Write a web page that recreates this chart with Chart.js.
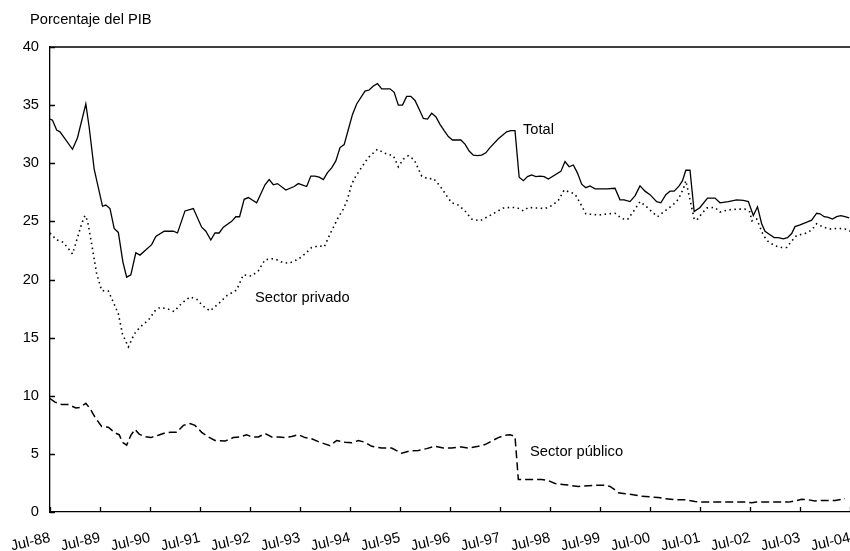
<!DOCTYPE html>
<html lang="es">
<head>
<meta charset="utf-8">
<title>Porcentaje del PIB</title>
<script src="https://cdn.jsdelivr.net/npm/chart.js@4.4.1/dist/chart.umd.min.js"></script>
<style>
  html, body { margin: 0; padding: 0; background: #fff; }
</style>
</head>
<body>
<canvas id="chart" width="850" height="551"></canvas>
<script>
// months counted from Jul-88
const xTickLabels = ['Jul-88','Jul-89','Jul-90','Jul-91','Jul-92','Jul-93','Jul-94','Jul-95','Jul-96',
  'Jul-97','Jul-98','Jul-99','Jul-00','Jul-01','Jul-02','Jul-03','Jul-04'];
const yTicks = [0, 5, 10, 15, 20, 25, 30, 35, 40];

const totalMonths = [0, 0.6, 1.6, 2.4, 5.4, 6.6, 8.6, 9.4, 10.6, 11.6,
  12.6, 13.4, 14.4, 15.4, 16.4, 17.5, 18.4, 19.4, 20.6, 21.6,
  24.4, 25.4, 27.4, 29.6, 30.6, 32.4, 34.4, 36.4, 37.4, 38.6,
  39.6, 40.6, 41.6, 43.6, 44.6, 45.5, 46.6, 47.6, 49.6, 51.6,
  52.6, 53.6, 54.6, 56.6, 58.6, 59.6, 61.6, 62.6, 63.6, 64.6,
  65.6, 66.6, 67.6, 68.6, 69.6, 70.6, 71.6, 72.6, 73.6, 75.6,
  76.6, 77.6, 78.6, 79.6, 81.6, 82.6, 83.6, 84.6, 85.6, 86.6,
  87.6, 88.6, 89.6, 90.6, 91.6, 92.6, 93.6, 94.6, 95.6, 96.6,
  98.6, 99.6, 100.6, 101.6, 102.6, 103.6, 104.6, 105.6, 107.6, 108.6,
  109.6, 110.6, 111.6, 112.6, 113.6, 114.6, 115.6, 116.6, 117.6, 118.6,
  119.6, 122.6, 123.6, 124.6, 125.6, 126.6, 127.6, 128.6, 129.6, 130.8,
  133.6, 135.6, 136.8, 137.8, 139.2, 140.4, 141.6, 142.8, 144, 145.6,
  146.6, 147.8, 148.8, 149.8, 151, 151.8, 152.6, 153.6, 154.6, 156,
  157.8, 159.6, 160.8, 162.8, 164.8, 166.4, 167.6, 168.8, 169.8, 170.8,
  171.6, 172.8, 173.8, 174.8, 176, 177, 178, 178.8, 180, 181.8,
  182.8, 184, 184.8, 185.8, 186.8, 187.8, 188.8, 189.8, 190.8, 191.8];
const totalValues = [33.8, 33.7, 32.85, 32.7, 31.2, 32.2, 35.1, 33.1, 29.5, 27.9,
  26.3, 26.4, 26.1, 24.4, 24.05, 21.5, 20.2, 20.4, 22.3, 22.1,
  23.0, 23.7, 24.15, 24.15, 24.0, 25.9, 26.1, 24.5, 24.15, 23.4,
  24.0, 24.0, 24.5, 25.0, 25.4, 25.4, 26.9, 27.05, 26.6, 28.15,
  28.6, 28.15, 28.25, 27.7, 28.0, 28.25, 28.0, 28.9, 28.9, 28.8,
  28.6, 29.2, 29.6, 30.2, 31.35, 31.6, 32.9, 34.2, 35.1, 36.2,
  36.3, 36.65, 36.85, 36.4, 36.4, 36.1, 35.0, 35.0, 35.75, 35.75,
  35.4, 34.65, 33.85, 33.8, 34.3, 34.0, 33.35, 32.8, 32.3, 32.0,
  32.0, 31.65, 31.05, 30.7, 30.65, 30.7, 30.9, 31.35, 32.1, 32.4,
  32.7, 32.8, 32.8, 28.8, 28.5, 28.85, 29.0, 28.85, 28.9, 28.85,
  28.65, 29.3, 30.15, 29.7, 29.85, 29.15, 28.2, 27.9, 28.05, 27.8,
  27.8, 27.85, 26.85, 26.85, 26.7, 27.2, 28.05, 27.6, 27.3, 26.7,
  26.6, 27.3, 27.6, 27.6, 28.05, 28.5, 29.4, 29.4, 25.85, 26.2,
  27.0, 27.0, 26.6, 26.7, 26.85, 26.8, 26.7, 25.5, 26.25, 24.8,
  24.15, 23.85, 23.6, 23.6, 23.5, 23.6, 23.95, 24.55, 24.7, 24.95,
  25.1, 25.7, 25.65, 25.4, 25.35, 25.2, 25.4, 25.5, 25.4, 25.3];

const privadoMonths = [0, 1.6, 3.2, 5.4, 6.6, 7.6, 8.4, 9, 10, 11.2,
  12.4, 14, 15.2, 16.4, 17.4, 18.8, 20.2, 21.6, 23.6, 25.2,
  26.4, 28, 29.8, 31.6, 33.6, 35.2, 36.8, 38.4, 40.4, 42.4,
  44.8, 46.4, 48.4, 50, 51.6, 53.8, 55.6, 57.4, 59.6, 61.2,
  62.8, 64.6, 65.8, 67.2, 69.2, 70.4, 71.4, 72.4, 73.4, 74.8,
  76.4, 78.6, 80.4, 82.4, 83.6, 84.8, 86, 87.4, 89.2, 90.8,
  92, 93.6, 95.2, 96.4, 98, 99.6, 101.2, 103.2, 104.8, 106.8,
  108.8, 110.4, 112, 113.6, 114.8, 116.8, 118.8, 120.4, 122, 123.4,
  124.8, 126, 127.2, 128.6, 131.6, 135.6, 137.2, 138.6, 140.4, 141.6,
  143.2, 144.4, 145.8, 147.6, 149.6, 150.8, 152, 152.6, 154.6, 155.2,
  156.4, 157.6, 159.6, 160.8, 162.8, 165.2, 166.8, 168, 168.4, 169.6,
  170.4, 171.2, 172.4, 174, 175.6, 176.8, 178, 179.2, 181.2, 182.8,
  184, 185.6, 187.2, 189.2, 190.8, 192];
const privadoValues = [24.0, 23.4, 23.2, 22.2, 23.6, 24.8, 25.5, 25.05, 23.05, 20.5,
  19.05, 19.0, 18.05, 17.05, 15.3, 14.2, 15.3, 15.9, 16.5, 17.3,
  17.6, 17.5, 17.25, 17.95, 18.5, 18.3, 17.7, 17.3, 17.9, 18.6,
  19.1, 20.4, 20.3, 20.75, 21.7, 21.8, 21.5, 21.4, 21.75, 22.2,
  22.75, 22.9, 22.8, 23.9, 25.35, 26.05, 26.9, 28.2, 28.9, 29.65,
  30.5, 31.2, 30.85, 30.65, 29.7, 30.35, 30.65, 30.3, 28.9, 28.65,
  28.7, 28.05, 27.2, 26.6, 26.4, 25.9, 25.2, 25.05, 25.35, 25.75,
  26.15, 26.2, 26.2, 25.9, 26.2, 26.15, 26.1, 26.35, 26.8, 27.7,
  27.5, 27.35, 26.6, 25.65, 25.55, 25.7, 25.25, 25.15, 26.05, 26.7,
  26.25, 25.85, 25.4, 25.9, 26.45, 26.9, 27.8, 28.5, 25.2, 25.1,
  25.65, 26.15, 26.2, 25.8, 26.0, 26.05, 26.05, 25.8, 25.05, 25.2,
  24.5, 23.8, 23.25, 22.9, 22.75, 22.75, 23.3, 23.8, 23.95, 24.25,
  24.8, 24.5, 24.35, 24.4, 24.35, 24.15];

const publicoMonths = [0, 1.2, 2.8, 4.4, 6.2, 7.2, 8.6, 9.6, 10.8, 12.4,
  14, 15.6, 16.6, 17.4, 18.4, 19.4, 20.4, 21.4, 22.6, 24.2,
  26, 27.6, 29, 30.4, 32, 33.6, 34.8, 36.4, 38, 39.6,
  42, 44, 45.6, 47.2, 48.4, 50, 51.6, 53.2, 54.8, 56.4,
  58, 59.6, 61.2, 62.8, 64.4, 65.6, 67.2, 68.8, 70.8, 72.4,
  74, 75.6, 77.2, 79.6, 82, 84.4, 86.4, 88.4, 90.4, 92.4,
  94.4, 96.4, 98.8, 100.4, 102.8, 104.4, 106, 107.6, 109.2, 110.4,
  111.6, 112.4, 114.8, 118, 119.6, 121.2, 123.6, 126.8, 129.2, 131.2,
  133.2, 134.4, 135.6, 136.4, 137.6, 139.6, 142, 144, 146, 147.6,
  150, 152.4, 154.8, 157.2, 160.4, 163.6, 166.8, 168.4, 169.6, 171.6,
  174.8, 177.2, 178.8, 180.4, 182, 183.6, 186, 188.4, 190.8];
const publicoValues = [9.75, 9.45, 9.25, 9.25, 8.95, 9.0, 9.35, 8.9, 8.15, 7.35,
  7.3, 6.8, 6.65, 6.0, 5.75, 6.6, 7.1, 6.7, 6.5, 6.4,
  6.6, 6.8, 6.85, 6.85, 7.45, 7.6, 7.45, 6.85, 6.45, 6.15,
  6.1, 6.4, 6.45, 6.65, 6.45, 6.45, 6.75, 6.45, 6.45, 6.4,
  6.5, 6.65, 6.4, 6.3, 6.05, 5.9, 5.7, 6.15, 6.0, 5.95,
  6.15, 6.0, 5.65, 5.5, 5.5, 5.05, 5.25, 5.3, 5.45, 5.65,
  5.5, 5.5, 5.6, 5.5, 5.65, 5.8, 6.1, 6.4, 6.6, 6.65,
  6.5, 2.8, 2.8, 2.8, 2.7, 2.45, 2.35, 2.2, 2.25, 2.3,
  2.3, 2.2, 1.9, 1.65, 1.6, 1.5, 1.35, 1.3, 1.25, 1.15,
  1.05, 1.05, 0.9, 0.85, 0.85, 0.85, 0.85, 0.8, 0.85, 0.85,
  0.85, 0.85, 0.95, 1.1, 1.05, 0.95, 1.0, 1.0, 1.15];

const toPoints = (months, values) => months.map((m, i) => ({x: m, y: values[i]}));

const FONT = '"Liberation Sans", Arial, Helvetica, sans-serif';
Chart.defaults.font.family = FONT;
Chart.defaults.font.size = 14.7;
Chart.defaults.color = '#000';

// title, in-line series labels, top frame line and inward tick marks
const decorations = {
  id: 'decorations',
  afterDraw(chart) {
    const {ctx, chartArea: a, scales: {x, y}} = chart;
    ctx.save();
    ctx.fillStyle = '#000';
    ctx.font = '14.7px ' + FONT;
    ctx.textBaseline = 'middle';
    ctx.textAlign = 'left';
    ctx.fillText('Porcentaje del PIB', 30, 20);
    ctx.fillText('Total', x.getPixelForValue(113.5), y.getPixelForValue(32.9));
    ctx.fillText('Sector privado', x.getPixelForValue(49.2), y.getPixelForValue(18.45));
    ctx.fillText('Sector público', x.getPixelForValue(115.2), y.getPixelForValue(5.2));

    ctx.strokeStyle = '#000';
    ctx.lineWidth = 1.3;
    ctx.beginPath();
    ctx.moveTo(a.left, a.top);
    ctx.lineTo(a.right, a.top);
    x.ticks.forEach(t => {
      const px = Math.round(x.getPixelForValue(t.value)) + 0.5;
      ctx.moveTo(px, a.bottom);
      ctx.lineTo(px, a.bottom - 5);
    });
    y.ticks.forEach(t => {
      const py = Math.round(y.getPixelForValue(t.value)) + 0.5;
      ctx.moveTo(a.left, py);
      ctx.lineTo(a.left + 5, py);
    });
    ctx.stroke();
    ctx.restore();
  }
};

new Chart(document.getElementById('chart'), {
  type: 'line',
  data: {
    datasets: [
      {label: 'Total', data: toPoints(totalMonths, totalValues), borderColor: '#000', borderWidth: 1.3},
      {label: 'Sector privado', data: toPoints(privadoMonths, privadoValues), borderColor: '#000', borderWidth: 1.6, borderDash: [1.5, 3.5]},
      {label: 'Sector público', data: toPoints(publicoMonths, publicoValues), borderColor: '#000', borderWidth: 1.5, borderDash: [8, 4]}
    ]
  },
  options: {
    responsive: false,
    animation: false,
    layout: {padding: {top: 47, right: 0, bottom: 0, left: 0}},
    elements: {point: {radius: 0}, line: {tension: 0, fill: false}},
    plugins: {legend: {display: false}, tooltip: {enabled: false}},
    scales: {
      x: {
        type: 'linear',
        min: 0,
        max: 192,
        grid: {drawOnChartArea: false, drawTicks: false},
        border: {color: '#000', width: 1.3},
        ticks: {
          stepSize: 12,
          autoSkip: false,
          minRotation: 13,
          maxRotation: 13,
          padding: 17,
          callback: v => xTickLabels[Math.round(v / 12)]
        },
        afterFit: s => { s.height = 39; s.paddingLeft = 0; s.paddingRight = 0; }
      },
      y: {
        min: 0,
        max: 40,
        grid: {drawOnChartArea: false, drawTicks: false},
        border: {color: '#000', width: 1.3},
        afterBuildTicks: s => { s.ticks = yTicks.map(v => ({value: v})); },
        ticks: {padding: 11},
        afterFit: s => { s.width = 50; }
      }
    }
  },
  plugins: [decorations]
});
</script>
</body>
</html>
